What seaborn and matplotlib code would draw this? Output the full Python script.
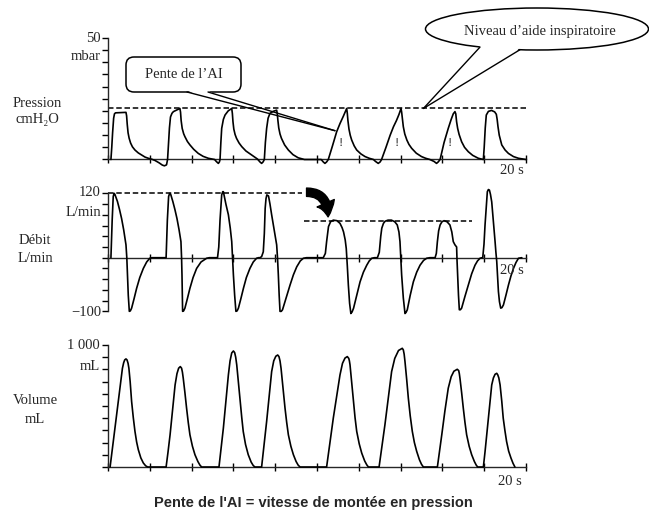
import numpy as np
import pandas as pd
import matplotlib
matplotlib.use("Agg")
import matplotlib.pyplot as plt
import seaborn as sns
from matplotlib.patches import FancyBboxPatch, Ellipse, Polygon, FancyArrowPatch

# ---------------- data: (time s, value) ----------------
pressure_points = [
    (0.14, 0), (0.18, 5), (0.22, 11), (0.27, 17), (0.31, 18.8), (0.36, 19.2), (0.60, 19.3), (0.86, 19.4),
    (0.89, 18), (0.92, 14.5), (0.96, 11), (1.01, 8.8), (1.08, 6.8), (1.17, 5.2), (1.29, 3.9), (1.45, 2.7),
    (1.61, 1.85), (1.77, 1.0), (1.93, 0.5), (2.10, 0.1),
    (2.25, -0.4), (2.45, -1.4), (2.60, -2.3), (2.70, -2.6), (2.80, -2.2), (2.85, 0), (2.89, 6), (2.94, 13),
    (2.99, 17.5), (3.06, 19), (3.13, 19.7), (3.30, 20.4), (3.44, 21.0), (3.47, 19.5), (3.50, 16), (3.55, 12.8),
    (3.62, 10.6), (3.68, 9.4), (3.80, 7.4), (3.92, 6), (4.10, 4.2), (4.32, 2.5), (4.55, 1.3), (4.80, 0.5), (5.10, 0),
    (5.18, -0.8), (5.28, -1.6), (5.33, -1.0), (5.36, 0), (5.40, 7), (5.44, 12.8), (5.52, 16.5), (5.60, 18.3),
    (5.75, 20.0), (5.92, 21.0), (5.95, 19), (5.98, 15.5), (6.02, 12.5), (6.08, 10.3), (6.15, 8.7), (6.27, 6.8),
    (6.40, 5.3), (6.60, 3.5), (6.87, 1.85), (7.05, 0.8), (7.15, 0.2),
    (7.27, -1.0), (7.35, -1.6), (7.42, -1.0), (7.48, 0), (7.53, 7), (7.59, 12.8), (7.66, 17), (7.75, 19),
    (7.90, 19.8), (8.07, 20.3), (8.10, 18.8), (8.13, 16), (8.17, 13), (8.23, 10.5), (8.30, 8.7), (8.45, 6),
    (8.63, 3.9), (8.85, 2.0), (9.10, 0.7), (9.40, 0),
    (10.20, 0), (10.30, -1.0), (10.38, -1.6), (10.46, -1.0), (10.54, 0), (10.74, 5.6), (10.94, 11.4),
    (11.10, 14.8), (11.26, 17.8), (11.42, 21.0), (11.45, 19), (11.48, 16), (11.53, 12.5), (11.59, 10),
    (11.66, 8), (11.78, 5.6), (11.90, 3.9), (12.10, 2.3), (12.30, 1.2), (12.50, 0.5), (12.70, 0),
    (12.80, -0.8), (12.93, -1.6), (13.02, -1.0), (13.09, 0), (13.30, 5), (13.50, 10), (13.66, 13.5),
    (13.80, 16), (13.92, 18.5), (14.02, 21.0), (14.05, 19.5), (14.09, 16.5), (14.13, 13.5), (14.20, 10.5),
    (14.30, 8), (14.40, 6.2), (14.53, 4.6), (14.75, 2.6), (15.00, 1.2), (15.20, 0.5), (15.40, 0),
    (15.60, -0.8), (15.72, -1.6), (15.80, -1.0), (15.89, 0), (16.08, 7), (16.28, 12.8), (16.42, 16.5),
    (16.52, 18.8), (16.60, 19.7), (16.64, 18.8), (16.68, 15.5), (16.73, 12.8), (16.80, 10.3), (16.92, 7.3),
    (17.06, 5), (17.24, 3.2), (17.45, 1.7), (17.72, 0.5), (17.96, 0),
    (18.00, 5), (18.05, 13), (18.10, 18.3), (18.20, 19.8), (18.35, 20.2), (18.50, 19.6), (18.58, 18.6),
    (18.62, 16.5), (18.66, 13.5), (18.72, 10), (18.84, 6), (19.00, 3.9), (19.16, 2.5), (19.40, 1.2),
    (19.64, 0.5), (20.00, 0),
]

flow_points = [
    (0.14, 0), (0.20, 70), (0.25, 114), (0.29, 120), (0.33, 118), (0.45, 105), (0.55, 90), (0.65, 73),
    (0.75, 52), (0.82, 35), (0.86, 24), (0.90, 0), (0.93, -32), (0.97, -70), (1.02, -100), (1.07, -99),
    (1.13, -94), (1.25, -76), (1.37, -57), (1.52, -37), (1.69, -20), (1.85, -8), (2.00, -1), (2.10, 0),
    (2.78, 0), (2.84, 70), (2.90, 114), (2.95, 120), (3.00, 118), (3.10, 105), (3.20, 90), (3.30, 73),
    (3.40, 52), (3.49, 30), (3.52, 0), (3.54, -32), (3.555, -70), (3.57, -100), (3.62, -99), (3.68, -94),
    (3.80, -76), (3.92, -57), (4.07, -37), (4.24, -20), (4.45, -8), (4.72, -1), (4.85, 0),
    (5.24, 0), (5.30, 20), (5.36, 70), (5.44, 117), (5.49, 123), (5.52, 123), (5.64, 100), (5.76, 80),
    (5.85, 55), (5.92, 30), (5.96, 0), (6.00, -32), (6.06, -70), (6.12, -100), (6.18, -99), (6.24, -94),
    (6.36, -76), (6.48, -57), (6.62, -37), (6.79, -20), (6.95, -8), (7.11, -1), (7.20, 0),
    (7.27, 0), (7.35, 2), (7.43, 11), (7.48, 45), (7.52, 92), (7.56, 110), (7.60, 117), (7.68, 115),
    (7.75, 100), (7.83, 80), (7.95, 52), (8.07, 24), (8.11, 0), (8.15, -32), (8.19, -70), (8.23, -100),
    (8.29, -100), (8.35, -97), (8.52, -75), (8.71, -51), (8.87, -32), (9.03, -17), (9.20, -6), (9.35, -1),
    (9.50, 0),
    (10.30, 0), (10.40, 8), (10.46, 30), (10.55, 58), (10.65, 67), (10.78, 70), (10.95, 69), (11.10, 64),
    (11.20, 56), (11.27, 48), (11.35, 33), (11.40, 17), (11.45, -15), (11.50, -51), (11.56, -85),
    (11.62, -104), (11.68, -101), (11.75, -94), (11.90, -70), (12.06, -45), (12.22, -27), (12.38, -14),
    (12.50, -6), (12.62, -1), (12.75, 0),
    (12.89, 0), (12.98, 10), (13.05, 40), (13.10, 55), (13.18, 64), (13.26, 68), (13.40, 70), (13.56, 70),
    (13.72, 67), (13.84, 61), (13.92, 48), (13.97, 30), (14.01, 0), (14.05, -32), (14.13, -75),
    (14.21, -104), (14.26, -102), (14.32, -97), (14.46, -70), (14.61, -45), (14.77, -27), (14.93, -14),
    (15.10, -5), (15.25, -1), (15.40, 0),
    (15.65, 0), (15.71, 8), (15.76, 30), (15.82, 50), (15.89, 61), (15.98, 67), (16.08, 69), (16.22, 67),
    (16.36, 61), (16.45, 48), (16.52, 30), (16.60, 24), (16.68, 20), (16.70, -5), (16.73, -32),
    (16.77, -70), (16.81, -97), (16.86, -97), (16.92, -94), (17.08, -72), (17.24, -51), (17.40, -30),
    (17.56, -14), (17.68, -6), (17.80, -1), (17.90, 0),
    (17.93, 0), (17.99, 25), (18.04, 61), (18.10, 95), (18.15, 123), (18.20, 127), (18.25, 126),
    (18.30, 118), (18.36, 104), (18.44, 68), (18.52, 30), (18.56, 10), (18.60, -7), (18.64, -35),
    (18.68, -63), (18.73, -82), (18.79, -94), (18.85, -93), (18.92, -88), (19.04, -70), (19.16, -51),
    (19.28, -34), (19.40, -20), (19.52, -9), (19.64, -1), (19.80, 0),
]

volume_points = [
    (0.10, 0), (0.17, 95), (0.255, 210), (0.37, 370), (0.49, 537), (0.60, 690), (0.69, 809), (0.75, 855),
    (0.80, 878), (0.86, 886), (0.91, 878), (0.96, 850), (1.00, 809), (1.06, 700), (1.13, 537), (1.21, 405),
    (1.29, 292), (1.37, 205), (1.45, 142), (1.57, 75), (1.69, 33), (1.80, 10), (1.90, 0),
    (2.78, 0), (2.87, 120), (2.97, 264), (3.09, 470), (3.21, 673), (3.30, 765), (3.38, 810), (3.46, 823),
    (3.52, 810), (3.56, 778), (3.60, 728), (3.68, 610), (3.76, 482), (3.84, 365), (3.92, 264), (4.04, 170),
    (4.16, 101), (4.30, 45), (4.40, 15), (4.48, 0),
    (5.31, 0), (5.41, 150), (5.52, 319), (5.64, 540), (5.76, 755), (5.84, 870), (5.92, 935), (6.00, 951),
    (6.06, 938), (6.11, 900), (6.16, 837), (6.24, 690), (6.32, 537), (6.40, 405), (6.47, 292), (6.58, 185),
    (6.71, 101), (6.85, 40), (6.95, 12), (7.03, 0),
    (7.35, 0), (7.47, 185), (7.59, 373), (7.71, 580), (7.83, 782), (7.93, 870), (8.03, 908), (8.12, 918),
    (8.18, 905), (8.23, 870), (8.28, 809), (8.37, 650), (8.47, 482), (8.55, 365), (8.63, 264), (8.75, 170),
    (8.87, 101), (9.00, 45), (9.10, 15), (9.19, 0),
    (10.46, 0), (10.62, 200), (10.78, 401), (10.94, 580), (11.10, 755), (11.22, 850), (11.34, 893),
    (11.45, 905), (11.52, 890), (11.55, 870), (11.58, 837), (11.66, 690), (11.74, 537), (11.82, 405),
    (11.90, 292), (12.02, 190), (12.14, 114), (12.28, 50), (12.38, 18), (12.46, 0),
    (12.97, 0), (13.11, 170), (13.25, 346), (13.41, 565), (13.57, 782), (13.72, 890), (13.90, 955),
    (14.08, 973), (14.13, 960), (14.17, 925), (14.21, 864), (14.29, 720), (14.37, 564), (14.46, 420),
    (14.56, 292), (14.66, 200), (14.77, 128), (14.90, 60), (15.00, 22), (15.09, 0),
    (15.76, 0), (15.86, 125), (15.97, 264), (16.12, 460), (16.28, 646), (16.42, 740), (16.55, 785),
    (16.71, 801), (16.78, 790), (16.81, 765), (16.84, 728), (16.92, 610), (17.00, 482), (17.08, 365),
    (17.16, 264), (17.28, 170), (17.40, 101), (17.53, 45), (17.62, 15), (17.69, 0),
    (17.96, 0), (18.04, 125), (18.12, 264), (18.24, 470), (18.36, 673), (18.44, 730), (18.52, 760),
    (18.60, 768), (18.65, 755), (18.70, 730), (18.76, 673), (18.84, 540), (18.91, 401), (18.99, 300),
    (19.07, 210), (19.17, 130), (19.28, 74), (19.38, 30), (19.47, 0),
]

pressure_level = 21          # Niveau d'aide inspiratoire (dashed)
flow_level_hi = 120
flow_level_lo = 69
flow_hi_span = [0, 9.3]
flow_lo_span = [9.4, 17.4]
excl_t = [11.15, 13.83, 16.36]
excl_p = [6.8, 6.8, 6.8]

x_ticks = [0, 2, 4, 6, 8, 10, 12, 14, 16, 18, 20]
p_ticks = [0, 5, 10, 15, 20, 25, 30, 35, 40, 45, 50]
f_ticks = [-100, -80, -60, -40, -20, 0, 20, 40, 60, 80, 100, 120]
v_ticks = [0, 100, 200, 300, 400, 500, 600, 700, 800, 900, 1000]

# ---------------- figure ----------------
sns.set_style("ticks")
plt.rcParams["font.family"] = ["Liberation Serif", "DejaVu Serif"]
plt.rcParams["axes.linewidth"] = 1.0

W, H = 649, 511
fig = plt.figure(figsize=(W / 100, H / 100), dpi=100)

X0, PXS = 108, 20.9
XLIM = (-0.5, 21.0)


def add_panel(ylim, v_a, py_a, v_b, py_b):
    s = (py_a - py_b) / (v_b - v_a)
    top_px = py_a - (ylim[1] - v_a) * s
    bot_px = py_a + (v_a - ylim[0]) * s
    left_px = X0 + XLIM[0] * PXS
    right_px = X0 + XLIM[1] * PXS
    ax = fig.add_axes([left_px / W, 1 - bot_px / H, (right_px - left_px) / W, (bot_px - top_px) / H])
    ax.set_xlim(*XLIM)
    ax.set_ylim(*ylim)
    ax.patch.set_alpha(0)
    return ax


ax_p = add_panel((-4, 53), 0, 159.5, 50, 38)
ax_f = add_panel((-112, 135), 0, 257.7, 120, 193.3)
ax_v = add_panel((-40, 1030), 0, 467, 1000, 345)

df_p = pd.DataFrame(pressure_points, columns=["t", "v"])
df_f = pd.DataFrame(flow_points, columns=["t", "v"])
df_v = pd.DataFrame(volume_points, columns=["t", "v"])

for ax, df, yt in [(ax_p, df_p, p_ticks), (ax_f, df_f, f_ticks), (ax_v, df_v, v_ticks)]:
    sns.lineplot(data=df, x="t", y="v", sort=False, estimator=None, ax=ax,
                 color="black", lw=1.2, zorder=3)
    sns.despine(ax=ax)
    ax.spines["left"].set_position(("data", 0))
    ax.spines["bottom"].set_position(("data", 0))
    ax.spines["left"].set_bounds(yt[0], yt[-1])
    ax.spines["bottom"].set_bounds(0, 20)
    ax.set_xticks(x_ticks)
    ax.set_xticklabels([])
    ax.set_yticks(yt)
    ax.set_yticklabels([])
    ax.set_xlabel("")
    ax.set_ylabel("")
    ax.tick_params(axis="x", direction="inout", length=6, width=1, color="black")
    ax.tick_params(axis="y", direction="out", length=4, width=1, color="black")

dash = (0, (3.6, 1.8))
ax_p.plot([0, 20], [pressure_level, pressure_level], ls=dash, lw=1.1, color="black", zorder=2)
ax_f.plot(flow_hi_span, [flow_level_hi] * 2, ls=dash, lw=1.1, color="black", zorder=2)
ax_f.plot(flow_lo_span, [flow_level_lo] * 2, ls=dash, lw=1.1, color="black", zorder=2)

for t, p in zip(excl_t, excl_p):
    ax_p.text(t, p, "!", ha="center", va="center", fontsize=9)

arrow = FancyArrowPatch(posA=(9.50, 122), posB=(10.53, 76),
                        connectionstyle="angle3,angleA=0,angleB=90",
                        arrowstyle="simple,head_length=1.0,head_width=1.35,tail_width=0.6",
                        mutation_scale=10, color="black", shrinkA=0, shrinkB=0,
                        transform=ax_f.transData, clip_on=False)
ax_f.add_patch(arrow)

# ---------------- texts ----------------
FS = 10.5


def ftext(x, y, s, ha="center", **kw):
    fig.text(x / W, 1 - y / H, s, ha=ha, va="center", fontsize=kw.pop("fontsize", FS), **kw)


ftext(101, 38, "50", ha="right")
ftext(101, 57, "mbar", ha="right")
ftext(37, 103, "Pression")
ftext(37, 119, "cmH₂O")
ftext(512, 170, "20 s")

ftext(101, 193, "120", ha="right")
ftext(101, 213, "L/min", ha="right")
ftext(35, 241, "Débit")
ftext(35, 258, "L/min")
ftext(101, 312, "−100", ha="right")
ftext(512, 270, "20 s")

ftext(100, 345, "1 000", ha="right")
ftext(100, 366, "mL", ha="right")
ftext(35, 400, "Volume")
ftext(35, 419, "mL")
ftext(510, 481, "20 s")

fig.text(313 / W, 1 - 503 / H, "Pente de l'AI = vitesse de montée en pression",
         ha="center", va="center", fontsize=10.5, fontweight="bold",
         family=["Liberation Sans", "DejaVu Sans"])

# ---------------- callouts (overlay in pixel coordinates) ----------------
ov = fig.add_axes([0, 0, 1, 1])
ov.set_xlim(0, W)
ov.set_ylim(H, 0)
ov.axis("off")
ov.patch.set_alpha(0)


def to_ov(ax, pt):
    disp = ax.transData.transform(pt)
    return ov.transData.inverted().transform(disp)


def wedge(b1, b2, tip, lift=1.5, frac=0.05):
    b1 = np.array(b1, float)
    b2 = np.array(b2, float)
    tip = np.array(tip, float)
    cover = [b1 + [0.6, -lift], b2 + [-0.6, -lift],
             b2 + frac * (tip - b2), b1 + frac * (tip - b1)]
    ov.add_patch(Polygon(cover, closed=True, facecolor="white", edgecolor="none", zorder=2))
    ov.plot([b1[0], tip[0]], [b1[1], tip[1]], color="black", lw=1.0, zorder=3)
    ov.plot([b2[0], tip[0]], [b2[1], tip[1]], color="black", lw=1.0, zorder=3)


box = FancyBboxPatch((126, 57), 115, 35, boxstyle="round,pad=0,rounding_size=8",
                     facecolor="white", edgecolor="black", lw=1.1, zorder=1)
ov.add_patch(box)
ov.text(183.5, 75, "Pente de l’AI", ha="center", va="center", fontsize=FS, zorder=4)
tip1 = to_ov(ax_p, (10.86, 11.85))
wedge((187, 92), (208, 92), tip1)

ell = Ellipse((537, 29), 223, 42, facecolor="white", edgecolor="black", lw=1.1, zorder=1)
ov.add_patch(ell)
ov.text(540, 32, "Niveau d’aide inspiratoire", ha="center", va="center", fontsize=FS, zorder=4)
tip2 = to_ov(ax_p, (15.09, pressure_level))
wedge((480, 47.1), (520, 49.7), tip2)

fig.savefig("out.png", dpi=100)
